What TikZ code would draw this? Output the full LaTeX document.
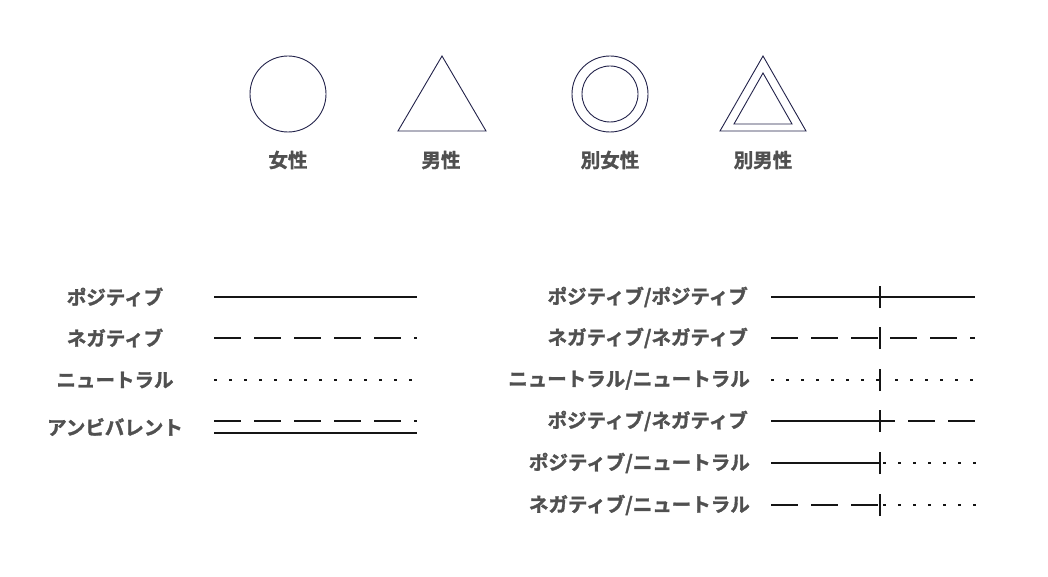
\documentclass[tikz,border=0pt]{standalone}
\usepackage{fontspec}
\newfontfamily\jp{Noto Sans CJK JP Bold}[FakeBold=1.6]
\definecolor{shapeline}{HTML}{22224A}
\definecolor{labelgray}{HTML}{505050}
\definecolor{linek}{HTML}{151515}
\begin{document}
\begin{tikzpicture}[x=1pt,y=-1pt,
  shapeln/.style={draw=shapeline, line width=0.9pt},
  ring/.style={shapeln, circle, inner sep=0pt, minimum size=#1},
  lbl/.style={font=\jp\fontsize{19.5}{21}\selectfont, text=labelgray, inner sep=0pt},
  rel/.style={draw=linek, line width=1.9pt},
  negd/.style={rel, dash pattern=on 27pt off 13pt},
  neud/.style={rel, dash pattern=on 3pt off 12pt},
  tickln/.style={draw=linek, line width=1.4pt}]
\useasboundingbox (0,0) rectangle (1048,577);

% ---- shapes
\node[ring=76pt] (fem) at (288,94) {};
\coordinate (mA) at (442,56); \coordinate (mB) at (398,131); \coordinate (mC) at (486,131);
\draw[shapeln] (mA) -- (mB) -- (mC) -- cycle;
\node[ring=76pt] (dfo) at (610,94) {};
\node[ring=56pt] (dfi) at (610,94) {};
\coordinate (dA) at (763,56); \coordinate (dB) at (720,131); \coordinate (dC) at (806,131);
\draw[shapeln] (dA) -- (dB) -- (dC) -- cycle;
\coordinate (eA) at (763,73); \coordinate (eB) at (734,124); \coordinate (eC) at (792,124);
\draw[shapeln] (eA) -- (eB) -- (eC) -- cycle;

\node[lbl] (lf) at (288,160) {女性};
\node[lbl] (lm) at (441,160) {男性};
\node[lbl] (ldf) at (610,160) {別女性};
\node[lbl] (ldm) at (763,160) {別男性};

% ---- left legend
\node[lbl] (lp) at (115,297) {ポジティブ};
\node[lbl] (ln) at (115,338) {ネガティブ};
\node[lbl] (lu) at (115,380) {ニュートラル};
\node[lbl] (la) at (115,427) {アンビバレント};

\coordinate (p1) at (214,297); \coordinate (p2) at (417,297);
\draw[rel] (p1) -- (p2);
\coordinate (n1) at (214,338); \coordinate (n2) at (417,338);
\draw[negd] (n1) -- (n2);
\coordinate (u1) at (214,380); \coordinate (u2) at (417,380);
\draw[neud] (u1) -- (u2);
\coordinate (a1) at (214,421); \coordinate (a2) at (417,421);
\draw[negd] (a1) -- (a2);
\coordinate (b1) at (214,433); \coordinate (b2) at (417,433);
\draw[rel] (b1) -- (b2);

% ---- right legend
\node[lbl, anchor=east] (rpp) at (748,297) {ポジティブ/ポジティブ};
\node[lbl, anchor=east] (rnn) at (748,338) {ネガティブ/ネガティブ};
\node[lbl, anchor=east] (ruu) at (750,380) {ニュートラル/ニュートラル};
\node[lbl, anchor=east] (rpn) at (748,421) {ポジティブ/ネガティブ};
\node[lbl, anchor=east] (rpu) at (750,463) {ポジティブ/ニュートラル};
\node[lbl, anchor=east] (rnu) at (750,505) {ネガティブ/ニュートラル};

% row 1
\coordinate (r1s) at (771,297); \coordinate (r1m) at (880,297); \coordinate (r1e) at (975,297);
\draw[rel] (r1s) -- (r1e);
% row 2
\coordinate (r2s) at (771,338); \coordinate (r2m) at (880,338); \coordinate (r2r) at (890,338); \coordinate (r2e) at (975,338);
\draw[negd] (r2s) -- (r2m);
\draw[negd] (r2r) -- (r2e);
% row 3
\coordinate (r3s) at (771,380); \coordinate (r3m) at (880,380); \coordinate (r3r) at (895,380); \coordinate (r3e) at (982,380);
\draw[neud] (r3s) -- (r3m);
\draw[neud] (r3r) -- (r3e);
% row 4
\coordinate (r4s) at (771,421); \coordinate (r4m) at (880,421); \coordinate (r4r) at (868,421); \coordinate (r4e) at (975,421);
\draw[rel] (r4s) -- (r4m);
\draw[negd] (r4r) -- (r4e);
% row 5
\coordinate (r5s) at (771,463); \coordinate (r5m) at (880,463); \coordinate (r5r) at (883,463); \coordinate (r5e) at (976,463);
\draw[rel] (r5s) -- (r5m);
\draw[neud] (r5r) -- (r5e);
% row 6
\coordinate (r6s) at (771,505); \coordinate (r6m) at (880,505); \coordinate (r6r) at (883,505); \coordinate (r6e) at (976,505);
\draw[negd] (r6s) -- (r6m);
\draw[neud] (r6r) -- (r6e);

% ticks
\foreach \r in {r1m,r2m,r3m,r4m,r5m,r6m}{
  \draw[tickln] ([yshift=-11pt]\r) -- ([yshift=11pt]\r);
}
\end{tikzpicture}
\end{document}
